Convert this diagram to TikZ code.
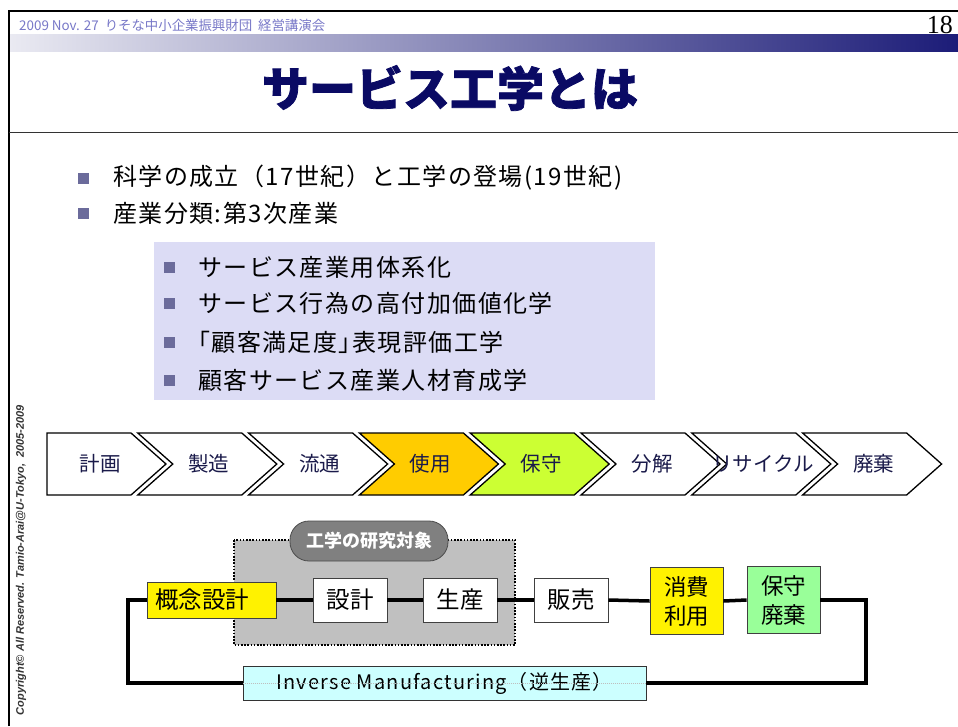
\documentclass[tikz,border=0pt]{standalone}
\usepackage{fontspec}
\setmainfont{Noto Sans CJK JP}
\newfontfamily\arialf{Liberation Sans}
\newfontfamily\timesf{Liberation Serif}
\newfontfamily\jpwide{Noto Sans CJK JP}[LetterSpace=6]
\usetikzlibrary{calc}
\definecolor{navy}{RGB}{10,10,100}
\definecolor{hdrc}{RGB}{120,120,200}
\definecolor{barL}{RGB}{234,234,242}
\definecolor{barR}{RGB}{28,28,120}
\definecolor{bulc}{RGB}{107,107,155}
\definecolor{lav}{RGB}{220,220,245}
\definecolor{chevtxt}{RGB}{26,26,74}
\definecolor{useY}{RGB}{255,204,0}
\definecolor{hoshuG}{RGB}{204,255,51}
\definecolor{greenbox}{RGB}{153,255,153}
\definecolor{cyanbox}{RGB}{204,255,255}
\definecolor{greyarea}{RGB}{192,192,192}
\definecolor{pillc}{RGB}{128,128,128}
\begin{document}
\begin{tikzpicture}[x=1pt,y=-1pt,
  bul/.style={fill=bulc, minimum size=11pt, inner sep=0pt},
  btext/.style={anchor=west, inner sep=0pt, font=\jpwide\fontsize{24}{26}\selectfont},
  chev/.style={draw=black, line width=1.3pt, line join=miter},
  chevtext/.style={text=chevtxt, font=\fontsize{20.5}{22}\selectfont, inner sep=1pt},
  pbox/.style={draw=black!75, line width=0.8pt, minimum width=74pt, minimum height=44pt, inner sep=2pt, font=\fontsize{23.5}{26}\selectfont},
  tallbox/.style={pbox, minimum width=73pt, minimum height=67pt, align=left, font=\fontsize{22.5}{29}\selectfont},
  conn/.style={line width=3.5pt, line join=miter}
]
\useasboundingbox (0,0) rectangle (958,726);
\fill[white] (0,0) rectangle (958,726);
% header
\shade[left color=barL, right color=barR] (9,34) rectangle (958,51);
\draw[line width=1.6pt] (9,726) -- (9,11) -- (958,11);
\draw[line width=1pt, black!80] (9,132) -- (958,132);
\node[anchor=west, text=hdrc, inner sep=0pt, font=\fontsize{13.4}{15}\selectfont] (hdr) at (19,25) {2009 Nov. 27\ \ りそな中小企業振興財団\ \ 経営講演会};
\node[anchor=east, inner sep=0pt, font=\timesf\fontsize{26}{28}\selectfont] (pg) at (953,25) {18};
\node[text=navy, inner sep=0pt, font=\bfseries\addfontfeatures{FakeBold=1.6}\fontsize{47}{50}\selectfont] (title) at (450,88) {サービス工学とは};
% copyright
\node[rotate=90, text=black!80, inner sep=0pt, font=\arialf\bfseries\itshape\fontsize{11}{12}\selectfont] (copy) at (21,560) {Copyright© All Reserved. Tamio-Arai@U-Tokyo,\ \ 2005-2009};
% bullets
\node[bul] (b1) at (83.5,178) {};
\node[btext] (t1) at (113,178) {科学の成立（17世紀）と工学の登場(19世紀)};
\node[bul] (b2) at (83.5,213) {};
\node[btext] (t2) at (113,213) {産業分類:第3次産業};
\fill[lav] (154,242) rectangle (655,400);
\foreach \y/\t [count=\k] in {267/サービス産業用体系化, 303/サービス行為の高付加価値化学, 342/｢顧客満足度｣表現評価工学, 380/顧客サービス産業人材育成学}{
  \node[bul] (sb\k) at (169.5,\y) {};
  \node[btext] (st\k) at (198,\y) {\t};
}
% chevrons
\foreach \i/\lab/\col in {1/計画/white, 2/製造/white, 3/流通/white, 4/使用/useY, 5/保守/hoshuG, 6/分解/white, 7/リサイクル/white, 8/廃棄/white}{
  \pgfmathsetmacro{\xo}{27+(\i-1)*110.8}
  \ifnum\i=1
    \draw[chev, fill=\col] (47,433) -- ({\xo+104},433) -- ({\xo+139},464) -- ({\xo+104},495) -- (47,495) -- cycle;
    \node[chevtext] (c\i) at (100,464) {\lab};
  \else
    \draw[chev, fill=\col] (\xo,433) -- ({\xo+104},433) -- ({\xo+139},464) -- ({\xo+104},495) -- (\xo,495) -- ({\xo+35},464) -- cycle;
    \node[chevtext] (c\i) at ({\xo+71},464) {\lab};
  \fi
}
% bottom diagram
\filldraw[fill=greyarea, draw=black, line width=2pt, dash pattern=on 1.6pt off 1.6pt] (234,540) rectangle (515,645);
\node[draw=black!80, fill=cyanbox, line width=0.8pt, minimum width=403pt, minimum height=34pt, inner sep=0pt, font=\jpwide\fontsize{20}{22}\selectfont] (inv) at (444.5,683) {Inverse Manufacturing（逆生産）};
\node[pbox, fill=yellow, minimum width=0pt, minimum height=36pt, text width=113pt, inner xsep=8pt, align=left] (gainen) at (211.5,600) {概念設計};
\node[pbox, fill=white] (sekkei) at (350,600) {設計};
\node[pbox, fill=white] (seisan) at (460,600) {生産};
\node[pbox, fill=white] (hanbai) at (571,600) {販売};
\node[tallbox, fill=yellow] (shohi) at (686.5,601) {消費\\利用};
\node[tallbox, fill=greenbox] (hoshu) at (783.5,600) {保守\\廃棄};
\coordinate (rc) at (866,600);
\coordinate (lc) at (128,600);
\draw[conn] (gainen.east) -- (sekkei.west);
\draw[conn] (sekkei.east) -- (seisan.west);
\draw[conn] (seisan.east) -- (hanbai.west);
\draw[conn] (hanbai.east) -- (shohi.west);
\draw[conn] (shohi.east) -- (hoshu.west);
\draw[conn] (hoshu.east) -- (rc) |- (inv.east);
\draw[conn] (inv.west) -| (lc) -- (gainen.west);
\draw[black!25, line width=1pt, densely dotted] (inv.west) -- (inv.east);
\node[fill=pillc, draw=black!70, line width=0.8pt, rounded corners=19pt, minimum width=158pt, minimum height=40pt, inner sep=0pt, text=white, font=\bfseries\fontsize{18}{20}\selectfont] (pill) at (369,541) {工学の研究対象};
\end{tikzpicture}
\end{document}
